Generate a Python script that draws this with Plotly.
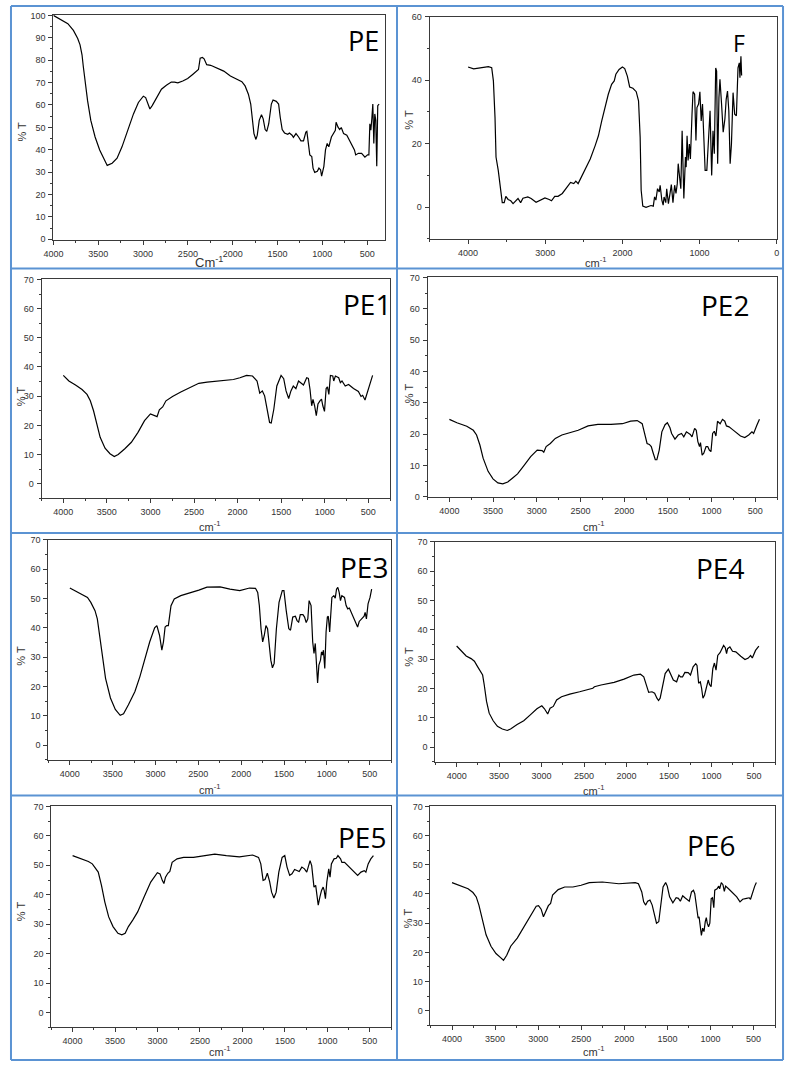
import plotly.graph_objects as go

# ---------------- data ----------------
pe_wn = [4000, 3930, 3839, 3777, 3729, 3703, 3681, 3667, 3645, 3619, 3583, 3535, 3484, 3436, 3400, 3345, 3290, 3235, 3169, 3107, 3052, 2997, 2971, 2949, 2924, 2898, 2850, 2795, 2740, 2685, 2649, 2612, 2557, 2502, 2447, 2400, 2382, 2363, 2338, 2319, 2290, 2246, 2173, 2100, 2026, 1953, 1898, 1862, 1825, 1799, 1781, 1763, 1741, 1726, 1704, 1679, 1660, 1638, 1620, 1598, 1569, 1550, 1514, 1488, 1470, 1448, 1422, 1386, 1367, 1338, 1323, 1294, 1265, 1239, 1210, 1184, 1173, 1155, 1140, 1118, 1104, 1085, 1056, 1038, 1020, 1008, 983, 965, 946, 928, 899, 855, 847, 825, 807, 789, 763, 727, 708, 672, 642, 628, 598, 562, 544, 525, 496, 481, 470, 459, 448, 437, 426, 415, 404, 393, 382, 367]
pe_t = [100, 98.5, 96.3, 93.3, 89.7, 86.8, 82.4, 77.3, 69.2, 61.9, 53.1, 45.7, 39.9, 36.2, 33.0, 34.0, 36.2, 41.3, 48.7, 56.0, 61.1, 63.9, 63.3, 61.1, 58.2, 59.7, 63.3, 67.0, 68.8, 70.2, 70.2, 69.9, 70.7, 71.8, 73.6, 75.4, 75.8, 80.9, 81.2, 80.6, 78.0, 77.7, 76.5, 75.1, 72.9, 71.4, 70.4, 68.5, 64.8, 60.4, 53.1, 47.2, 44.6, 46.5, 53.1, 55.6, 53.8, 49.0, 48.2, 51.6, 60.4, 62.2, 61.6, 60.4, 54.5, 49.0, 47.5, 46.9, 47.5, 46.5, 45.5, 47.2, 45.7, 44.0, 44.0, 47.9, 48.2, 42.8, 37.7, 37.0, 31.8, 29.9, 30.4, 31.8, 31.1, 28.2, 32.6, 39.9, 42.8, 41.3, 45.7, 48.7, 52.3, 50.1, 49.0, 49.9, 47.2, 46.5, 45.0, 42.8, 39.9, 37.7, 38.4, 38.4, 37.7, 36.7, 37.7, 37.7, 51.6, 48.7, 53.8, 60.4, 42.8, 56.0, 53.1, 32.6, 59.7, 60.4]

f_wn = [4000, 3928, 3843, 3736, 3694, 3672, 3651, 3638, 3609, 3574, 3557, 3532, 3511, 3481, 3447, 3417, 3374, 3353, 3319, 3289, 3226, 3183, 3119, 3055, 3004, 2949, 2919, 2877, 2834, 2779, 2715, 2672, 2630, 2604, 2574, 2523, 2481, 2417, 2353, 2311, 2268, 2226, 2183, 2140, 2106, 2085, 2043, 2000, 1970, 1936, 1906, 1864, 1821, 1791, 1770, 1757, 1736, 1694, 1630, 1600, 1583, 1566, 1545, 1523, 1511, 1489, 1472, 1460, 1438, 1426, 1404, 1383, 1366, 1345, 1323, 1306, 1289, 1277, 1260, 1243, 1226, 1204, 1183, 1174, 1162, 1149, 1132, 1119, 1098, 1085, 1064, 1047, 1034, 1013, 996, 979, 962, 949, 928, 906, 885, 864, 843, 826, 809, 791, 779, 766, 749, 736, 715, 694, 672, 655, 638, 621, 604, 587, 566, 545, 523, 502, 485, 477, 464, 455]
f_t = [44.2, 43.6, 43.9, 44.3, 44.0, 39.8, 28.3, 15.8, 11.6, 3.2, 1.4, 1.4, 3.4, 2.4, 2.0, 1.1, 2.4, 2.7, 1.4, 2.8, 3.2, 2.7, 1.5, 2.2, 2.9, 2.4, 2.0, 3.4, 3.4, 4.3, 6.4, 7.8, 7.4, 8.2, 7.4, 10.0, 11.6, 15.2, 19.4, 22.5, 27.2, 31.4, 35.6, 38.7, 39.8, 41.9, 43.4, 44.2, 43.7, 41.3, 37.9, 37.5, 36.4, 33.5, 22.0, 5.3, 0.3, -0.1, 0.5, 0.3, 3.2, 2.2, 5.8, 4.8, 6.9, 2.2, 0.6, 3.2, 1.4, 5.8, 1.1, 4.3, 7.1, 1.4, 6.9, 4.3, 7.4, 13.7, 8.5, 5.8, 24.1, 2.7, 15.8, 12.6, 22.5, 14.7, 19.9, 15.2, 29.3, 36.4, 35.6, 21.0, 31.4, 32.5, 36.4, 27.2, 32.5, 24.1, 11.6, 11.6, 22.0, 30.4, 10.0, 24.1, 16.8, 43.9, 42.9, 13.7, 34.6, 40.3, 32.5, 23.6, 27.8, 34.0, 36.6, 30.4, 13.7, 19.9, 36.1, 29.3, 28.8, 43.9, 45.5, 40.8, 47.6, 41.5]

pe1_wn = [4000, 3936, 3860, 3785, 3728, 3690, 3653, 3615, 3577, 3521, 3464, 3415, 3370, 3294, 3219, 3143, 3068, 3000, 2954, 2924, 2898, 2860, 2822, 2747, 2652, 2558, 2445, 2350, 2199, 2048, 1973, 1897, 1829, 1777, 1746, 1716, 1690, 1660, 1633, 1614, 1584, 1550, 1501, 1471, 1444, 1414, 1388, 1361, 1331, 1301, 1263, 1244, 1207, 1188, 1169, 1150, 1135, 1116, 1097, 1078, 1055, 1037, 1022, 1003, 984, 969, 953, 935, 908, 897, 878, 840, 821, 802, 765, 727, 670, 614, 584, 565, 538, 508, 470, 451]
pe1_t = [37.1, 35.2, 33.8, 32.3, 30.6, 28.4, 25.0, 20.5, 15.9, 12.2, 10.3, 9.3, 10.0, 12.0, 14.2, 17.6, 21.6, 23.9, 23.3, 23.0, 25.3, 26.3, 28.4, 29.9, 31.4, 32.7, 34.4, 34.8, 35.2, 35.7, 36.3, 37.1, 36.9, 35.2, 31.0, 31.8, 30.1, 25.6, 21.0, 20.8, 25.6, 33.5, 37.1, 36.0, 31.8, 29.2, 31.8, 33.5, 32.6, 35.2, 34.4, 33.8, 36.3, 36.1, 32.3, 26.7, 28.9, 26.7, 23.3, 27.3, 28.4, 29.0, 26.7, 24.8, 32.6, 33.2, 30.6, 37.1, 36.9, 35.2, 36.9, 36.3, 34.6, 35.2, 33.5, 34.0, 32.6, 31.6, 29.9, 30.3, 28.7, 31.8, 36.0, 37.1]

pe2_wn = [4000, 3914, 3801, 3726, 3689, 3651, 3614, 3557, 3501, 3445, 3389, 3332, 3276, 3220, 3145, 3070, 2995, 2939, 2920, 2893, 2845, 2788, 2713, 2620, 2526, 2413, 2301, 2151, 2020, 1926, 1851, 1794, 1768, 1738, 1712, 1690, 1671, 1644, 1626, 1599, 1569, 1532, 1506, 1476, 1457, 1419, 1382, 1344, 1318, 1288, 1243, 1224, 1194, 1175, 1157, 1138, 1127, 1108, 1089, 1063, 1044, 1026, 1007, 988, 969, 950, 932, 902, 875, 849, 830, 800, 763, 725, 669, 620, 575, 538, 519, 482, 452]
pe2_t = [24.7, 23.6, 22.5, 21.2, 19.7, 16.5, 12.3, 8.1, 5.7, 4.4, 4.1, 4.7, 6.0, 7.3, 10.0, 12.8, 14.9, 14.7, 14.2, 16.0, 17.0, 18.6, 19.7, 20.4, 21.2, 22.6, 23.1, 23.1, 23.3, 24.1, 24.3, 23.3, 20.7, 17.0, 16.7, 16.0, 14.2, 11.8, 11.8, 14.9, 20.7, 23.0, 23.6, 22.0, 20.2, 18.4, 19.7, 20.2, 19.1, 20.7, 19.9, 19.1, 21.8, 21.2, 17.6, 16.0, 17.3, 13.3, 13.9, 16.0, 16.0, 14.9, 14.4, 20.2, 20.9, 19.4, 24.1, 23.3, 24.7, 24.1, 22.6, 22.3, 21.5, 20.7, 19.4, 18.9, 19.7, 20.7, 20.2, 22.8, 24.7]

pe3_wn = [4000, 3889, 3794, 3755, 3706, 3679, 3652, 3622, 3583, 3526, 3469, 3412, 3373, 3316, 3240, 3182, 3125, 3068, 3010, 2984, 2953, 2926, 2907, 2888, 2869, 2850, 2819, 2781, 2705, 2590, 2494, 2399, 2246, 2131, 2017, 1902, 1833, 1807, 1788, 1768, 1749, 1730, 1711, 1692, 1673, 1654, 1635, 1615, 1589, 1558, 1520, 1501, 1474, 1444, 1424, 1398, 1367, 1348, 1329, 1310, 1279, 1260, 1241, 1222, 1207, 1184, 1165, 1150, 1135, 1119, 1108, 1093, 1074, 1062, 1051, 1040, 1024, 1009, 994, 983, 967, 960, 941, 918, 902, 887, 872, 856, 841, 825, 794, 775, 756, 737, 699, 661, 641, 622, 595, 565, 553, 538, 519, 496, 477]
pe3_t = [53.6, 51.9, 50.4, 48.7, 45.9, 43.1, 37.5, 30.7, 22.8, 16.1, 12.2, 10.2, 10.7, 13.8, 18.3, 23.4, 29.0, 35.2, 40.0, 40.8, 37.5, 32.4, 35.2, 40.3, 40.8, 40.8, 47.6, 49.9, 51.0, 51.9, 52.9, 53.9, 54.0, 53.2, 52.7, 53.6, 53.5, 52.1, 47.6, 39.7, 35.2, 37.5, 40.8, 39.7, 33.0, 29.0, 26.4, 27.9, 39.7, 48.7, 52.7, 52.7, 45.9, 39.7, 39.2, 43.7, 44.0, 42.5, 42.0, 44.5, 44.5, 43.7, 41.8, 43.1, 49.3, 47.6, 35.2, 31.3, 34.7, 26.2, 21.2, 27.3, 29.0, 31.8, 30.7, 32.4, 26.2, 38.6, 43.7, 44.0, 38.6, 42.0, 50.4, 51.0, 50.1, 53.2, 53.8, 52.1, 49.3, 51.0, 50.4, 47.6, 46.5, 46.8, 44.2, 42.0, 40.3, 42.2, 42.9, 44.0, 45.3, 43.1, 48.2, 50.4, 53.2]

pe4_wn = [4000, 3946, 3888, 3830, 3791, 3752, 3714, 3694, 3675, 3648, 3617, 3570, 3520, 3462, 3404, 3365, 3288, 3210, 3133, 3055, 2997, 2966, 2928, 2900, 2862, 2823, 2765, 2668, 2552, 2455, 2397, 2378, 2300, 2146, 2029, 1913, 1836, 1797, 1766, 1739, 1700, 1669, 1642, 1623, 1604, 1573, 1545, 1507, 1480, 1449, 1410, 1383, 1364, 1340, 1313, 1274, 1247, 1216, 1185, 1170, 1151, 1131, 1116, 1100, 1081, 1062, 1038, 1023, 1004, 984, 965, 946, 926, 899, 880, 857, 837, 822, 810, 783, 752, 713, 655, 605, 566, 539, 519, 481, 442]
pe4_t = [34.5, 33.0, 31.1, 30.2, 29.3, 27.4, 25.7, 24.6, 21.2, 15.6, 11.6, 9.0, 7.1, 6.2, 5.7, 6.2, 7.7, 9.0, 11.0, 13.1, 14.1, 13.1, 11.3, 13.3, 13.9, 16.1, 17.2, 18.1, 18.9, 19.8, 20.1, 20.6, 21.2, 22.1, 23.2, 24.6, 24.9, 24.0, 21.2, 18.7, 18.9, 18.4, 16.7, 15.9, 16.7, 21.2, 25.1, 26.6, 25.1, 22.9, 22.3, 24.6, 24.0, 24.0, 25.5, 25.4, 24.6, 27.4, 28.5, 27.9, 21.8, 22.3, 20.1, 16.7, 17.8, 20.6, 22.9, 21.4, 20.6, 26.8, 28.7, 26.3, 31.3, 32.2, 33.6, 34.7, 33.9, 31.9, 33.6, 34.2, 32.7, 32.5, 31.0, 29.9, 30.4, 31.3, 30.4, 33.0, 34.5]

pe5_wn = [4000, 3911, 3814, 3768, 3729, 3698, 3660, 3621, 3575, 3524, 3466, 3420, 3381, 3343, 3292, 3234, 3157, 3080, 3002, 2971, 2944, 2925, 2906, 2879, 2855, 2828, 2770, 2693, 2577, 2461, 2326, 2190, 2036, 1881, 1811, 1784, 1757, 1734, 1707, 1680, 1657, 1630, 1603, 1572, 1533, 1502, 1475, 1444, 1417, 1386, 1359, 1332, 1301, 1270, 1243, 1204, 1185, 1158, 1138, 1119, 1108, 1088, 1069, 1050, 1038, 1023, 1007, 984, 969, 953, 922, 895, 876, 845, 829, 798, 760, 721, 682, 644, 605, 566, 547, 520, 489, 458]
pe5_t = [53.3, 52.4, 51.3, 50.5, 49.0, 47.7, 43.2, 37.6, 32.5, 29.2, 26.9, 26.4, 26.9, 29.2, 31.4, 34.2, 39.3, 44.3, 47.5, 47.1, 44.9, 43.8, 46.0, 47.3, 47.9, 51.0, 52.2, 52.7, 52.7, 53.3, 53.8, 53.3, 52.9, 53.5, 52.7, 50.5, 44.9, 45.2, 47.3, 44.5, 40.9, 38.9, 40.9, 47.7, 52.7, 53.3, 49.4, 46.6, 47.1, 48.6, 48.2, 47.9, 49.4, 48.8, 47.7, 51.6, 49.9, 42.6, 43.2, 39.3, 36.5, 39.3, 41.5, 42.6, 41.5, 38.7, 44.3, 48.8, 46.0, 50.5, 52.2, 52.4, 53.3, 52.2, 51.0, 51.0, 49.9, 49.0, 47.7, 46.6, 47.7, 48.2, 47.7, 50.5, 52.2, 53.3]

pe6_wn = [4000, 3909, 3814, 3757, 3719, 3688, 3654, 3605, 3548, 3490, 3433, 3403, 3365, 3319, 3243, 3167, 3091, 3023, 2996, 2966, 2939, 2913, 2882, 2856, 2833, 2768, 2692, 2597, 2502, 2407, 2255, 2065, 1874, 1837, 1798, 1776, 1753, 1730, 1703, 1677, 1646, 1627, 1601, 1578, 1551, 1521, 1502, 1475, 1437, 1399, 1373, 1350, 1323, 1297, 1266, 1247, 1221, 1198, 1183, 1164, 1144, 1133, 1118, 1106, 1091, 1076, 1061, 1049, 1038, 1023, 1008, 992, 977, 962, 951, 924, 905, 894, 875, 856, 840, 825, 791, 753, 696, 658, 627, 582, 551, 536, 513, 487, 468]
pe6_t = [43.9, 43.0, 41.8, 40.5, 39.0, 36.2, 31.7, 26.0, 22.1, 19.6, 18.1, 17.3, 19.0, 22.1, 24.9, 28.8, 32.8, 35.8, 36.0, 34.8, 32.2, 34.2, 36.0, 36.8, 39.6, 41.5, 42.4, 42.4, 43.0, 43.9, 44.1, 43.5, 43.9, 43.5, 40.7, 37.3, 36.2, 37.5, 37.9, 36.2, 31.7, 30.0, 30.5, 36.2, 42.4, 43.9, 42.7, 39.0, 37.0, 38.7, 38.5, 37.5, 39.4, 38.7, 37.9, 37.5, 40.7, 41.3, 40.1, 35.1, 31.7, 32.2, 27.7, 25.8, 28.3, 27.1, 30.5, 31.9, 30.0, 28.8, 30.0, 38.4, 38.7, 35.3, 41.3, 41.8, 42.7, 41.8, 43.9, 43.2, 40.9, 42.7, 41.8, 40.7, 39.0, 37.3, 38.2, 38.5, 38.7, 38.2, 40.7, 42.7, 43.9]

labels = ["PE", "F", "PE1", "PE2", "PE3", "PE4", "PE5", "PE6"]
series = [(pe_wn, pe_t), (f_wn, f_t), (pe1_wn, pe1_t), (pe2_wn, pe2_t),
          (pe3_wn, pe3_t), (pe4_wn, pe4_t), (pe5_wn, pe5_t), (pe6_wn, pe6_t)]

# ---------------- layout configuration ----------------
W, H = 787, 1067
# plot box (left, top, right, bottom) in pixels
boxes = [(44, 10, 381, 237), (426, 12, 779, 236),
         (32, 277, 386, 498), (424, 275, 779, 497),
         (39, 540, 387, 762), (432, 542, 777, 764),
         (42, 809, 387, 1032), (427, 809, 777, 1030)]
xranges = [[4001, 299], [4500, -5]] + [[4250, 250]] * 6
yranges = [[-0.2, 100.2], [-10, 60], [-5, 70], [-0.2, 70], [-5, 70], [-5, 70], [-5, 70], [-5, 70]]
xdt = [500, 1000] + [500] * 6
ydt = [10, 20] + [10] * 6
label_pos = [(359, 36, 27), (740, 38, 23), (363, 302, 28), (726, 303, 28),
             (359, 567, 28), (721, 568, 28), (357, 840, 28), (712, 848, 28)]
ytitle_pos = [(12, 128), (405, 116), (11, 395), (406, 392), (11, 657), (405, 658), (12, 915), (405, 922)]
xtitle_pos = [(202, 259), (595, 259), (203, 526), (593, 526), (203, 791), (593, 792), (213, 1056), (593, 1056)]
xtitles = ["Cm<sup>-1</sup>"] + ["cm<sup>-1</sup>"] * 7

AX = "#3a3a3a"
tickfont = dict(family="Liberation Sans, Arial, sans-serif", size=9, color="#333")

fig = go.Figure()
layout = dict(width=W, height=H, margin=dict(l=0, r=0, t=0, b=0),
              paper_bgcolor="white", plot_bgcolor="white", showlegend=False)
annotations = []
shapes = []

for i, ((wn, t), lab) in enumerate(zip(series, labels)):
    n = i + 1
    sfx = "" if n == 1 else str(n)
    fig.add_trace(go.Scatter(x=wn, y=t, mode="lines", xaxis="x" + sfx, yaxis="y" + sfx,
                             line=dict(color="black", width=1.2), hoverinfo="skip"))
    l, tp, r, b = boxes[i]
    lo, hi = min(xranges[i]), max(xranges[i])
    xt = [v for v in range(0, 4001, xdt[i]) if lo <= v <= hi]
    layout["xaxis" + sfx] = dict(
        domain=[l / W, r / W], anchor="y" + sfx, range=xranges[i],
        showline=True, linecolor=AX, linewidth=1, mirror=True,
        showgrid=False, zeroline=False,
        tickmode="array", tickvals=xt, ticktext=[str(v) for v in xt],
        ticks="outside", ticklen=4, tickwidth=1, tickcolor=AX,
        minor=dict(ticks="outside", ticklen=2, tickcolor=AX, tick0=0, dtick=xdt[i] / 2, showgrid=False),
        tickfont=tickfont, ticklabelstandoff=1, ticklabeloverflow="allow")
    layout["yaxis" + sfx] = dict(
        domain=[1 - b / H, 1 - tp / H], anchor="x" + sfx, range=yranges[i],
        showline=True, linecolor=AX, linewidth=1, mirror=True,
        showgrid=False, zeroline=False,
        tickmode="linear", tick0=0, dtick=ydt[i],
        ticks="outside", ticklen=4, tickwidth=1, tickcolor=AX,
        minor=dict(ticks="outside", ticklen=2, tickcolor=AX, tick0=0, dtick=ydt[i] / 2, showgrid=False),
        tickfont=tickfont, ticklabelstandoff=1, ticklabeloverflow="allow")

    lx, ly, ls = label_pos[i]
    annotations.append(dict(text=lab, x=lx / W, y=1 - ly / H, xref="paper", yref="paper",
                            showarrow=False, xanchor="center", yanchor="middle",
                            font=dict(family="Open Sans, sans-serif", size=ls, color="black")))
    yx, yy = ytitle_pos[i]
    annotations.append(dict(text="% T", x=yx / W, y=1 - yy / H, xref="paper", yref="paper",
                            showarrow=False, textangle=-90, xanchor="center", yanchor="middle",
                            font=dict(family="Liberation Sans, Arial, sans-serif", size=11, color="#333")))
    xx, xy = xtitle_pos[i]
    annotations.append(dict(text=xtitles[i], x=xx / W, y=1 - xy / H, xref="paper", yref="paper",
                            showarrow=False, xanchor="center", yanchor="middle",
                            font=dict(family="Liberation Sans, Arial, sans-serif",
                                      size=13 if i == 0 else 11, color="#333")))

# blue panel borders
BL = "#5b93d3"
for xv in [1, 393, 785]:
    shapes.append(dict(type="line", xref="paper", yref="paper", x0=xv / W, x1=xv / W,
                       y0=1 - 1 / H, y1=1 - 1065 / H, line=dict(color=BL, width=2)))
for yv in [1, 266, 533, 798, 1065]:
    shapes.append(dict(type="line", xref="paper", yref="paper", x0=1 / W, x1=785 / W,
                       y0=1 - yv / H, y1=1 - yv / H, line=dict(color=BL, width=2)))

layout["annotations"] = annotations
layout["shapes"] = shapes
fig.update_layout(**layout)
fig.write_html("out.html", config={"displayModeBar": False},
               post_script="document.body.style.margin='0';document.body.style.overflow='hidden';")
